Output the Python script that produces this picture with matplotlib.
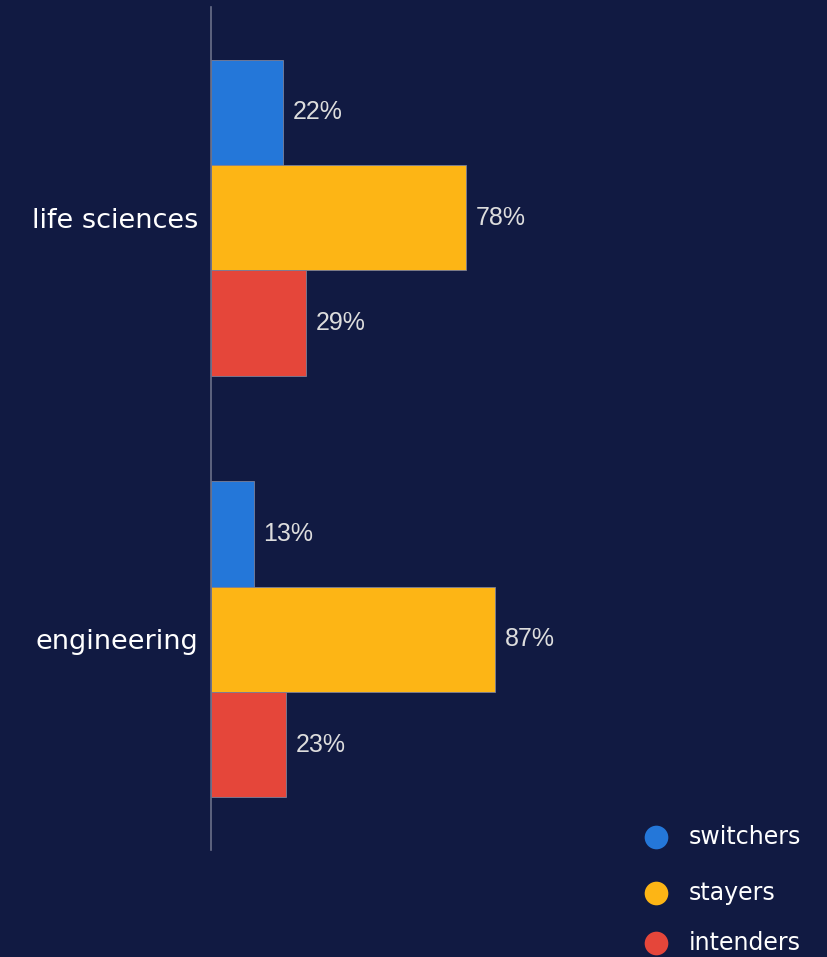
import matplotlib
matplotlib.use("Agg")
import matplotlib.pyplot as plt
import numpy as np

# grouped horizontal bars: share of each group by field
categories = ["life sciences", "engineering"]
series = ["switchers", "stayers", "intenders"]
switchers = [22, 13]
stayers = [78, 87]
intenders = [29, 23]

BG = "#111a42"
COLORS = ["#2477d9", "#fdb515", "#e5463a"]

fig = plt.figure(figsize=(8.28, 9.57), dpi=100, facecolor=BG)
ax = fig.add_axes([211 / 828, 107 / 957, 617 / 828, 843 / 957])
ax.set_facecolor(BG)

bar_h = 0.25
y = np.arange(len(categories))
values = [switchers, stayers, intenders]
for i, (vals, col) in enumerate(zip(values, COLORS)):
    pos = y + (i - 1) * bar_h
    ax.barh(pos, vals, height=bar_h, color=col, edgecolor="#7a7f99",
            linewidth=0.6)
    for p, v in zip(pos, vals):
        ax.text(v + 3, p, f"{v}%", va="center", ha="left",
                fontsize=18, color="#dddddd", family="Liberation Sans")

ax.set_xlim(0, 617 / 3.27)
ax.set_ylim(1.5, -0.5)
ax.set_yticks(y)
ax.set_yticklabels(categories, fontsize=19.5, color="white", family="DejaVu Sans")
ax.tick_params(axis="y", length=0, pad=9)
ax.set_xticks([])
for side in ["top", "right", "bottom"]:
    ax.spines[side].set_visible(False)
ax.spines["left"].set_color("#6b7089")
ax.spines["left"].set_linewidth(1.2)

# legend in the lower right corner
lax = fig.add_axes([0, 0, 1, 1])
lax.set_xlim(0, 828)
lax.set_ylim(957, 0)
lax.axis("off")
for name, col, ly in zip(series, COLORS, [837, 893, 943]):
    lax.scatter([656], [ly], s=290, color=col, linewidths=0)
    lax.text(689, ly, name, va="center", ha="left", fontsize=17,
             color="white", family="DejaVu Sans")

fig.savefig("out.png", dpi=100, facecolor=BG)
